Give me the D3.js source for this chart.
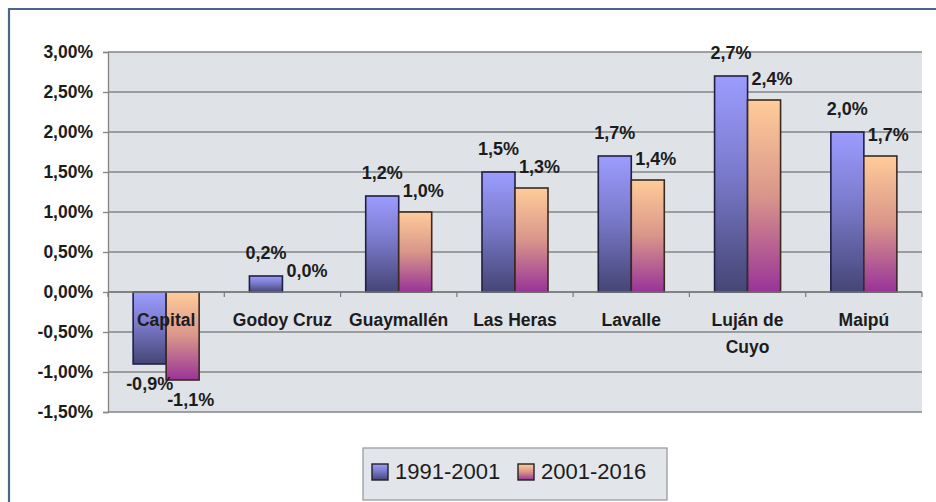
<!DOCTYPE html>
<html>
<head>
<meta charset="utf-8">
<script src="https://cdn.jsdelivr.net/npm/d3@7"></script>
<style>
  html, body { margin: 0; padding: 0; background: #ffffff; }
  svg { display: block; }
  text { font-family: "Liberation Sans", Arial, sans-serif; }
</style>
</head>
<body>
<svg id="chart" width="936" height="502"></svg>
<script>
// Tasa de crecimiento medio anual por departamento
const departamentos = ["Capital", "Godoy Cruz", "Guaymallén", "Las Heras", "Lavalle", "Luján de Cuyo", "Maipú"];
const periodos = ["1991-2001", "2001-2016"];
const tasa1991_2001 = [-0.9, 0.2, 1.2, 1.5, 1.7, 2.7, 2.0];
const tasa2001_2016 = [-1.1, 0.0, 1.0, 1.3, 1.4, 2.4, 1.7];
const yTicks = [-1.5, -1.0, -0.5, 0.0, 0.5, 1.0, 1.5, 2.0, 2.5, 3.0];

const series = [tasa1991_2001, tasa2001_2016];

// Spanish number format: decimal comma, plain hyphen for negatives
const es = d3.formatLocale({ decimal: ",", thousands: ".", grouping: [3], currency: ["", " €"], minus: "-" });

const svg = d3.select("#chart");
const plot = { left: 108, right: 922, top: 52, bottom: 412 };

// outer frame
svg.append("path")
  .attr("d", "M9,503 L9,9 L937,9")
  .attr("fill", "none")
  .attr("stroke", "#4b6688")
  .attr("stroke-width", 2.2);

// gradients for each series
const defs = svg.append("defs");
const gradStops = [
  [["0%", "#9c9cff"], ["45%", "#7a7acc"], ["100%", "#454575"]],
  [["0%", "#ffcc99"], ["50%", "#d9958a"], ["100%", "#993399"]]
];
gradStops.forEach((stops, i) => {
  const g = defs.append("linearGradient")
    .attr("id", "grad" + i)
    .attr("x1", 0).attr("y1", 0).attr("x2", 0).attr("y2", 1);
  stops.forEach(s => g.append("stop").attr("offset", s[0]).attr("stop-color", s[1]));
});
const strokeCol = ["#1f1f45", "#3b2a22"];

const x = d3.scaleBand().domain(departamentos).range([plot.left, plot.right]).padding(0);
const barW = 33;
const xs = d3.scaleBand().domain(periodos)
  .range([x.bandwidth() / 2 - barW, x.bandwidth() / 2 + barW]).padding(0);
const y = d3.scaleLinear().domain([-1.5, 3.0]).range([plot.bottom, plot.top]);

// plot background
svg.append("rect")
  .attr("x", plot.left).attr("y", plot.top)
  .attr("width", plot.right - plot.left).attr("height", plot.bottom - plot.top)
  .attr("fill", "#dfe2e7");

// gridlines
svg.append("g").selectAll("line").data(yTicks).join("line")
  .attr("x1", plot.left).attr("x2", plot.right)
  .attr("y1", d => y(d)).attr("y2", d => y(d))
  .attr("stroke", "#848484").attr("stroke-width", 1.3);

// y axis
const fmtTick = d => es.format(".2f")(d) + "%";
const yAxis = svg.append("g")
  .attr("transform", `translate(${plot.left},0)`)
  .call(d3.axisLeft(y).tickValues(yTicks).tickFormat(fmtTick).tickSize(5).tickPadding(10));
yAxis.select(".domain").attr("stroke", "#848484").attr("stroke-width", 1.3);
yAxis.selectAll(".tick line").attr("stroke", "#848484").attr("stroke-width", 1.3);
yAxis.selectAll(".tick text")
  .attr("font-size", 17.5).attr("font-weight", "bold").attr("fill", "#1c1c1c")
  .attr("font-family", "'Liberation Sans', Arial, sans-serif");

// bars
const groups = svg.append("g").selectAll("g").data(departamentos).join("g")
  .attr("transform", d => `translate(${x(d)},0)`);

series.forEach((vals, si) => {
  groups.append("rect")
    .attr("x", xs(periodos[si]))
    .attr("width", xs.bandwidth())
    .attr("y", (d, i) => y(Math.max(0, vals[i])))
    .attr("height", (d, i) => Math.abs(y(vals[i]) - y(0)))
    .attr("fill", `url(#grad${si})`)
    .attr("stroke", strokeCol[si])
    .attr("stroke-width", 1.6);
});

// zero line and category ticks
svg.append("line")
  .attr("x1", plot.left).attr("x2", plot.right)
  .attr("y1", y(0)).attr("y2", y(0))
  .attr("stroke", "#7a7a7a").attr("stroke-width", 1.4);
const bounds = departamentos.map(d => x(d)).concat([plot.right]);
svg.append("g").selectAll("line").data(bounds).join("line")
  .attr("x1", d => d).attr("x2", d => d)
  .attr("y1", y(0)).attr("y2", y(0) + 5)
  .attr("stroke", "#7a7a7a").attr("stroke-width", 1.2);

// category labels (wrapped names)
const catLines = { "Luján de Cuyo": ["Luján de", "Cuyo"] };
groups.append("text")
  .attr("text-anchor", "middle")
  .attr("font-size", 17.5).attr("font-weight", "bold").attr("fill", "#1c1c1c")
  .each(function (d) {
    const lines = catLines[d] || [d];
    d3.select(this).selectAll("tspan").data(lines).join("tspan")
      .attr("x", x.bandwidth() / 2)
      .attr("y", (l, k) => y(0) + 34 + k * 27)
      .text(l => l);
  });

// value labels
const fmtVal = v => es.format(".1f")(v) + "%";
const labelDx = [0, 8];
const labelDyPos = [-17, -15];
series.forEach((vals, si) => {
  groups.append("text")
    .attr("text-anchor", "middle")
    .attr("font-size", 18).attr("font-weight", "bold").attr("fill", "#1c1c1c")
    .attr("x", xs(periodos[si]) + xs.bandwidth() / 2 + labelDx[si])
    .attr("y", (d, i) => vals[i] < 0 ? y(vals[i]) + 26 : y(vals[i]) + labelDyPos[si])
    .text((d, i) => fmtVal(vals[i]));
});

// legend
const legend = svg.append("g").attr("transform", "translate(363,448)");
legend.append("rect")
  .attr("width", 304).attr("height", 52)
  .attr("fill", "#e2e5ea").attr("stroke", "#9c9c9c").attr("stroke-width", 1.3);
const legX = [9, 155];
periodos.forEach((p, i) => {
  legend.append("rect")
    .attr("x", legX[i]).attr("y", 16).attr("width", 16).attr("height", 16)
    .attr("fill", `url(#grad${i})`).attr("stroke", "#222").attr("stroke-width", 1.4);
  legend.append("text")
    .attr("x", legX[i] + 23).attr("y", 31)
    .attr("font-size", 22).attr("fill", "#1c1c1c")
    .text(p);
});
</script>
</body>
</html>
